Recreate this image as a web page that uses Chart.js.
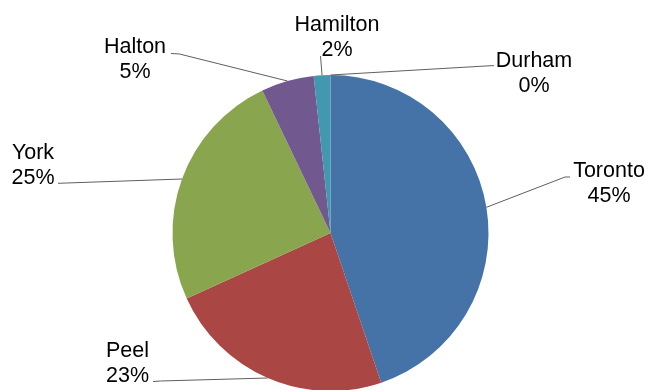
<!DOCTYPE html>
<html>
<head>
<meta charset="utf-8">
<script src="https://cdn.jsdelivr.net/npm/chart.js@4/dist/chart.umd.min.js"></script>
<style>
  html, body { margin: 0; padding: 0; background: #ffffff; }
  #wrap { width: 647px; height: 390px; }
</style>
</head>
<body>
<div id="wrap"><canvas id="pie" width="647" height="390"></canvas></div>
<script>
// Share of total by region
const regions = ['Toronto', 'Peel', 'York', 'Halton', 'Hamilton', 'Durham'];
const shares = [44.8, 23.4, 24.7, 5.4, 1.7, 0];
const sliceColors = ['#4572A7', '#AA4643', '#89A54E', '#71588F', '#4198AF', '#DB843D'];

// Label placement, as offsets from the pie centre:
// text = centre-x / first baseline of the two-line label,
// path = bend points of the leader line after it leaves the slice edge.
const labelLayout = [
  { text: [278.5, -56],   path: [[234.5, -56], [239.5, -56]] },
  { text: [-203, 123.5],  path: [[-170, 148], [-177.5, 148.5]] },
  { text: [-297.5, -74.5], path: [[-264, -50], [-272.5, -49.7]] },
  { text: [-195.5, -179.7], path: [[-151, -179], [-159.5, -179.5]] },
  { text: [6.5, -202.3],  path: [[-10, -177]] },
  { text: [203.5, -166.3], path: [[160.5, -167.3], [163.5, -167.3]] }
];

const LINE_GAP = 25;
const FONT = '21.5px "Liberation Sans", Arial, sans-serif';

const total = shares.reduce((a, b) => a + b, 0);

const calloutLabels = {
  id: 'calloutLabels',
  afterDatasetsDraw(chart) {
    const ctx = chart.ctx;
    const meta = chart.getDatasetMeta(0);
    ctx.save();
    meta.data.forEach((arc, i) => {
      const p = arc.getProps(['x', 'y', 'startAngle', 'endAngle', 'outerRadius'], true);
      const mid = (p.startAngle + p.endAngle) / 2;
      const ex = p.x + Math.cos(mid) * p.outerRadius;
      const ey = p.y + Math.sin(mid) * p.outerRadius;
      const lay = labelLayout[i];

      // leader line
      ctx.beginPath();
      ctx.moveTo(ex, ey);
      lay.path.forEach(([dx, dy]) => ctx.lineTo(p.x + dx, p.y + dy));
      ctx.strokeStyle = '#5f5f5f';
      ctx.lineWidth = 1;
      ctx.stroke();

      // two-line label: name, then rounded percentage
      const pct = Math.round(shares[i] / total * 100) + '%';
      ctx.font = FONT;
      ctx.fillStyle = '#000000';
      ctx.textAlign = 'center';
      ctx.textBaseline = 'alphabetic';
      const tx = p.x + lay.text[0];
      const ty = p.y + lay.text[1];
      ctx.fillText(regions[i], tx, ty);
      ctx.fillText(pct, tx, ty + LINE_GAP);
    });
    ctx.restore();
  }
};

new Chart(document.getElementById('pie'), {
  type: 'pie',
  data: {
    labels: regions,
    datasets: [{
      data: shares,
      backgroundColor: sliceColors,
      borderWidth: 0,
      clip: false
    }]
  },
  options: {
    responsive: false,
    animation: false,
    radius: 158,
    layout: { padding: { top: 76, bottom: 0, left: 14, right: 0 } },
    plugins: {
      legend: { display: false },
      tooltip: { enabled: false }
    }
  },
  plugins: [calloutLabels]
});
</script>
</body>
</html>
